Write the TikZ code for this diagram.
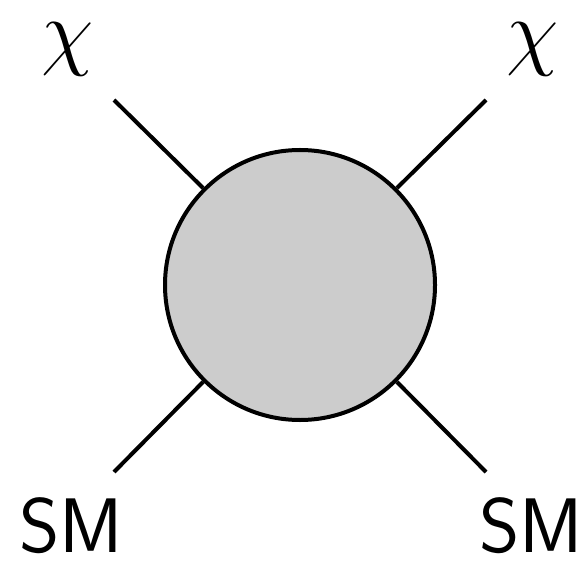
\documentclass[tikz,border=0pt]{standalone}
\usepackage{amsmath,amssymb}
\usepackage{xcolor}
\usepackage{tikz}
\usetikzlibrary{positioning,calc}

\begin{document}
\begin{tikzpicture}[
    blob/.style={circle, draw, line width=0.08cm, fill=gray!40, minimum size=5.4cm, inner sep=0pt},
    leg/.style={line width=0.08cm},
    chilabel/.style={font=\fontsize{24.88}{30}\selectfont, inner sep=0pt, scale=1.95, transform shape},
    smlabel/.style={font=\fontsize{44}{48}\selectfont\sffamily, inner sep=0pt, anchor=base}
]

\useasboundingbox (0,0) rectangle (11.76,-11.24);

% Interaction blob
\node[blob] (vertex) at (6.0,-5.7) {};

% Free ends of the legs
\coordinate (inl) at (2.28,-2.0);
\coordinate (inr) at (9.72,-2.0);
\coordinate (outl) at (2.28,-9.44);
\coordinate (outr) at (9.72,-9.44);

% Legs
\draw[leg] (vertex.135) -- (inl);
\draw[leg] (vertex.45) -- (inr);
\draw[leg] (vertex.225) -- (outl);
\draw[leg] (vertex.315) -- (outr);

% Particle labels
\node[chilabel] (chil) at (1.35,-0.98) {$\chi$};
\node[chilabel] (chir) at (10.65,-0.98) {$\chi$};
\node[smlabel] (sml) at (1.43,-11.04) {SM};
\node[smlabel] (smr) at (10.62,-11.04) {SM};

\end{tikzpicture}
\end{document}
